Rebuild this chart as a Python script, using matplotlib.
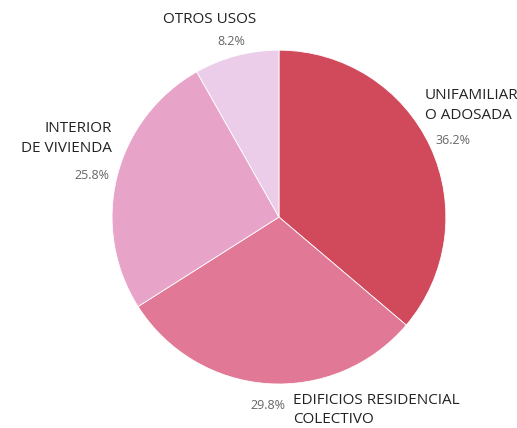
import matplotlib.pyplot as plt

labels = ["UNIFAMILIAR\nO ADOSADA", "EDIFICIOS RESIDENCIAL\nCOLECTIVO", "INTERIOR\nDE VIVIENDA", "OTROS USOS"]
values = [36.2, 29.8, 25.8, 8.2]
colors = ["#d04a5c", "#e07896", "#e8a3c9", "#ebcde9"]

plt.rcParams["font.family"] = ["Open Sans", "DejaVu Sans"]

fig = plt.figure(figsize=(5.17, 4.28), dpi=100)
ax = fig.add_axes([0.2166, 0.1028, 0.646, 0.780])
ax.pie(values, colors=colors, startangle=90, counterclock=False,
       wedgeprops=dict(edgecolor="white", linewidth=0.6))
ax.set_xlim(-1, 1)
ax.set_ylim(-1, 1)
ax.set_aspect("equal")


def px(x, y):
    # pixel position in the image -> pie data coords
    return (x - 279) / 167, (217 - y) / 167


lab_kw = dict(fontsize=11, color="#222222", linespacing=1.45)
pct_kw = dict(fontsize=9, color="#666666")

# unifamiliar
ax.text(*px(425, 105), labels[0], ha="left", va="center", **lab_kw)
ax.text(*px(436, 140), f"{values[0]}%", ha="left", va="center", **pct_kw)
# edificios
ax.text(*px(293, 410), labels[1], ha="left", va="center", **lab_kw)
ax.text(*px(250, 406), f"{values[1]}%", ha="left", va="center", **pct_kw)
# interior
ax.text(*px(112, 138), labels[2], ha="right", va="center", multialignment="right", **lab_kw)
ax.text(*px(109, 175), f"{values[2]}%", ha="right", va="center", **pct_kw)
# otros
ax.text(*px(210, 19), labels[3], ha="center", va="center", **lab_kw)
ax.text(*px(231, 41.5), f"{values[3]}%", ha="center", va="center", **pct_kw)

fig.savefig("out.png", dpi=100)
